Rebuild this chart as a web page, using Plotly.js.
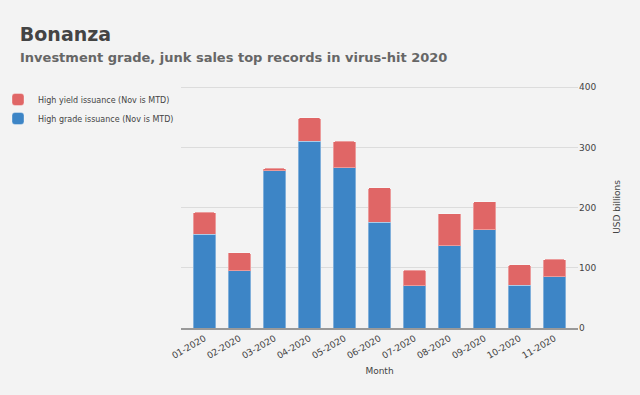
<!DOCTYPE html>
<html>
<head>
<meta charset="utf-8">
<script src="https://cdn.plot.ly/plotly-3.0.1.min.js"></script>
<style>html,body{margin:0;padding:0;background:#f3f3f3;}#chart{width:640px;height:395px;}</style>
</head>
<body>
<div id="chart"></div>
<script>
var months = ["01-2020","02-2020","03-2020","04-2020","05-2020","06-2020","07-2020","08-2020","09-2020","10-2020","11-2020"];
var highGrade = [156, 95, 261, 310, 266, 176, 70, 137, 163, 71, 85];
var highYield = [36, 30, 4, 39, 44, 57, 26, 53, 47, 34, 29];
var yTicks = [0, 100, 200, 300, 400];

var font = "DejaVu Sans, Verdana, sans-serif";

var traces = [
  {type:"bar", x:months, y:highGrade, name:"High grade issuance (Nov is MTD)",
   marker:{color:"#3d85c6", line:{color:"rgba(255,255,255,0.35)", width:1}}, hoverinfo:"none"},
  {type:"bar", x:months, y:highYield, name:"High yield issuance (Nov is MTD)",
   marker:{color:"#e06666", line:{color:"rgba(255,255,255,0.35)", width:1}}, hoverinfo:"none"}
];

var layout = {
  width:640, height:395,
  paper_bgcolor:"#f3f3f3", plot_bgcolor:"#f3f3f3",
  font:{family:font, color:"#444", size:9},
  margin:{l:181, r:62, t:86, b:67, autoexpand:false},
  barmode:"stack", bargap:0.35, barcornerradius:2,
  showlegend:true,
  legend:{xref:"paper", yref:"paper", x:(-2-181)/397, y:(328-85)/242, xanchor:"left", yanchor:"top",
          traceorder:"reversed", font:{size:8, color:"#444"}, bgcolor:"rgba(0,0,0,0)",
          tracegroupgap:0},
  title:{text:"<b>Bonanza</b>", xref:"container", yref:"container", x:0.031, xanchor:"left",
         y:0.897, yanchor:"bottom", font:{family:font, size:19, color:"#444"}},
  xaxis:{type:"category", range:[-0.67, 10.67], tickangle:-30, tickfont:{size:9, color:"#444"},
         showline:true, linecolor:"#999", linewidth:2, ticks:"", showgrid:false,
         title:{text:"Month", font:{size:9, color:"#444"}, standoff:8}},
  yaxis:{side:"right", range:[0,402], tickvals:yTicks, ticktext:yTicks.map(String),
         tickfont:{size:9, color:"#444"}, gridcolor:"#dcdcdc", gridwidth:1, zeroline:false,
         ticks:"", ticklen:0,
         title:{text:"USD billions", font:{size:9, color:"#444"}, standoff:18}},
  annotations:[{text:"<b>Investment grade, junk sales top records in virus-hit 2020</b>",
    xref:"paper", yref:"paper", x:(18-181)/397, y:(328-67)/242, xanchor:"left", yanchor:"bottom",
    showarrow:false, font:{family:font, size:13, color:"#666"}}]
};

Plotly.newPlot("chart", traces, layout, {staticPlot:true, displayModeBar:false});
</script>
</body>
</html>
